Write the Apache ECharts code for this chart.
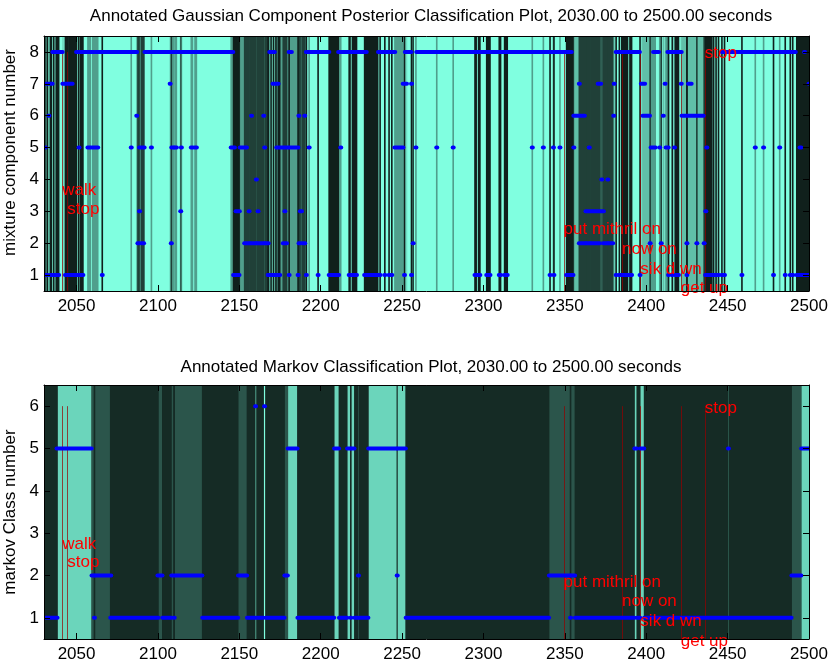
<!DOCTYPE html>
<html><head><meta charset="utf-8">
<script src="https://cdn.jsdelivr.net/npm/echarts@6/dist/echarts.min.js"></script>
<style>html,body{margin:0;padding:0;background:#fff;}#c{width:831px;height:664px;}</style>
</head><body><div id="c"></div>
<script>
// ---------- tick labels ----------
const xTicks = [2050, 2100, 2150, 2200, 2250, 2300, 2350, 2400, 2450, 2500];
const gmmYTicks = [1, 2, 3, 4, 5, 6, 7, 8];
const markovYTicks = [1, 2, 3, 4, 5, 6];
const xRange = [2030, 2500];
const gmmYRange = [0.5, 8.5];
const markovYRange = [0.5, 6.5];

// ---------- titles / axis names ----------
const gmmTitle = 'Annotated Gaussian Component Posterior Classification Plot, 2030.00 to 2500.00 seconds';
const markovTitle = 'Annotated Markov Classification Plot, 2030.00 to 2500.00 seconds';
const gmmYName = 'mixture component number';
const markovYName = 'markov Class number';

// ---------- Gaussian component runs [start s, end s] per component ----------
const gmmClass8 = [[2035.4,2041.2],[2050,2060.5],[2062,2087],[2092,2146],[2168.7,2171.5],[2180.6,2182],[2191.2,2205],[2211,2228],[2235.5,2245.5],[2252,2255.5],[2259,2354],[2381.5,2395.8],[2404.5,2407.5],[2413.3,2421.5],[2446.5,2491.6],[2497.3,2497.3]];
const gmmClass7 = [[2031.5,2035],[2041.6,2047.3],[2107.5,2107.5],[2170.7,2173.8],[2250.7,2252.7],[2255.8,2255.8],[2358.9,2358.9],[2370.5,2372],[2380.3,2380.3],[2397,2399],[2411.6,2411.6],[2421.5,2421.5],[2426,2427.6],[2500,2500]];
const gmmClass6 = [[2033,2033],[2087,2087],[2157.5,2157.5],[2165,2165],[2186.6,2186.6],[2190.2,2190.2],[2355.5,2362],[2380,2380],[2398,2402],[2410.5,2410.5],[2422,2435]];
const gmmClass5 = [[2030,2030.8],[2051.5,2051.5],[2057,2058.5],[2060,2063],[2083.6,2083.6],[2088.7,2089.5],[2091,2091.5],[2096,2096],[2108.5,2109.5],[2110.5,2111.3],[2114.4,2114.4],[2120.5,2121.2],[2122.8,2123.6],[2145,2147],[2150.5,2154.4],[2165.6,2165.6],[2173,2178],[2179.5,2186],[2192.9,2192.9],[2212.3,2212.3],[2245.6,2250.5],[2258.5,2258.5],[2271.3,2271.3],[2281.4,2281.4],[2330,2330],[2336.8,2336.8],[2343,2343],[2347,2347],[2355.5,2355.5],[2365,2365],[2403,2405.5],[2408.3,2408.3],[2412.2,2413.5],[2417.4,2417.4],[2437.2,2437.2],[2467,2467],[2472.1,2472.1],[2482,2482],[2494.5,2495]];
const gmmClass4 = [[2160.5,2160.5],[2372.7,2372.7],[2376.4,2376.4]];
const gmmClass3 = [[2088.7,2088.7],[2114,2114],[2148,2150],[2156,2156],[2161.5,2161.5],[2178,2178],[2187.5,2188.2],[2363,2373.7],[2436.6,2436.6]];
const gmmClass2 = [[2087.7,2088.2],[2090,2091.2],[2108.2,2108.2],[2153.3,2156],[2157,2160],[2161,2165],[2166,2167.7],[2177,2179],[2186.7,2187.2],[2189,2190.2],[2256.8,2256.8],[2358.9,2362.5],[2363.5,2365],[2366,2371.2],[2373.7,2376],[2377,2379.4],[2402.4,2402.4],[2409.2,2409.2],[2425,2425],[2431.1,2431.1],[2435.6,2435.6]];
const gmmClass1 = [[2030,2030.5],[2032,2032],[2034,2034.5],[2036,2036],[2037.5,2039],[2043.2,2044.5],[2045.3,2049.8],[2051.2,2051.2],[2052.5,2053.9],[2065.8,2065.8],[2146.5,2149.8],[2167.7,2168],[2169.5,2169.5],[2171,2171],[2172.5,2172.5],[2174,2174.8],[2180.6,2180.6],[2186.1,2186.1],[2191.2,2191.2],[2198.4,2198.4],[2205.2,2211],[2217.5,2218],[2219.5,2222],[2227,2235],[2236.5,2236.5],[2239.4,2239.4],[2242,2242],[2243.7,2243.7],[2251.5,2251.5],[2255.8,2255.8],[2294.8,2295.5],[2297,2297.8],[2302,2304],[2309.7,2310.5],[2313,2314.6],[2340.9,2340.9],[2343.3,2343.3],[2351.1,2355],[2381.5,2381.5],[2383.5,2383.5],[2385,2388.5],[2390,2391],[2396.2,2396.2],[2413.7,2413.7],[2416,2416],[2418,2419.8],[2425,2425],[2436.5,2440.3],[2441.4,2441.4],[2442.9,2442.9],[2444.4,2444.4],[2446.5,2446.5],[2448.1,2448.1],[2458.8,2458.8],[2478.2,2478.2],[2485.4,2485.4],[2488.5,2488.5],[2490,2490],[2492.5,2500]];

// ---------- Markov class runs [start s, end s] per class ----------
const markovClass6 = [[2160,2160],[2165.5,2165.5]];
const markovClass5 = [[2038,2059],[2180,2185.5],[2208.5,2211],[2216.5,2218],[2219,2220.5],[2229.5,2246.5],[2247.5,2252],[2393,2394],[2396.5,2398.5],[2450.5,2450.5],[2495.5,2500]];
const markovClass2 = [[2059.5,2060.5],[2061.5,2071],[2100,2102.5],[2108.5,2109],[2110.5,2127],[2149.5,2154.5],[2178,2179.5],[2223.2,2223.2],[2247,2247],[2340.5,2353],[2354,2356],[2489.5,2495]];
const markovClass1 = [[2030,2038],[2061,2061],[2071,2100],[2103,2108],[2110,2110],[2127.5,2149],[2155,2159.5],[2161,2164.5],[2166.5,2177.5],[2186,2208],[2211.5,2216],[2218.5,2218.5],[2221,2222.5],[2224,2229],[2252.5,2340],[2353.5,2353.5],[2356.5,2392.5],[2394.5,2396],[2399,2450],[2451,2489]];

// ---------- annotations ----------
const annotTimes = [2041.2, 2044.3, 2349.2, 2385.1, 2396.4, 2421.2, 2436.0];
const annotLabels = ['walk', 'stop', 'put mithril on', 'now on', 'sik d wn', 'get up', 'stop'];
const gmmAnnotY = [3.65, 3.05, 2.42, 1.82, 1.19, 0.58, 7.96];
const markovAnnotY = [2.73, 2.30, 1.83, 1.38, 0.91, 0.45, 5.95];
const gmmLineTop = 8;
const markovLineTop = 6;

// ---------- helpers ----------
const FONT = "'Liberation Sans', Arial, Helvetica, sans-serif";
function shade(c, maxC) {
  const f = c / maxC;
  return 'rgb(' + Math.round(128 * f) + ',' + Math.round(255 * f) + ',' + Math.round(224 * f) + ')';
}
function runsToData(classArrays) {
  const out = [];
  classArrays.forEach(function (pair) {
    pair[1].forEach(function (r) { out.push([r[0], r[1], pair[0]]); });
  });
  return out;
}
const gmmData = runsToData([[8, gmmClass8], [7, gmmClass7], [6, gmmClass6], [5, gmmClass5], [4, gmmClass4], [3, gmmClass3], [2, gmmClass2], [1, gmmClass1]]);
const markovData = runsToData([[6, markovClass6], [5, markovClass5], [2, markovClass2], [1, markovClass1]]);

function bandRenderer(yRange, maxC) {
  return function (params, api) {
    const s = api.value(0), e = api.value(1), c = api.value(2);
    const p0 = api.coord([s - 0.5, yRange[1]]);
    const p1 = api.coord([e + 0.5, yRange[0]]);
    return { type: 'rect', shape: { x: p0[0], y: p0[1], width: p1[0] - p0[0], height: p1[1] - p0[1] },
      style: { fill: shade(c, maxC) } };
  };
}
function dotRenderer(params, api) {
  const s = api.value(0), e = api.value(1), c = api.value(2);
  const p0 = api.coord([s, c]);
  const p1 = api.coord([e, c]);
  return { type: 'rect', shape: { x: p0[0] - 2.5, y: p0[1] - 2, width: p1[0] - p0[0] + 5, height: 4, r: 2 },
    style: { fill: '#0000ff' } };
}
function lineRenderer(yRange) {
  return function (params, api) {
    const t = api.value(0), top = api.value(1);
    const a = api.coord([t, top]);
    const b = api.coord([t, yRange[0]]);
    return { type: 'line', shape: { x1: Math.round(a[0]) + 0.5, y1: a[1], x2: Math.round(b[0]) + 0.5, y2: b[1] },
      style: { stroke: 'rgba(150,0,0,0.7)', lineWidth: 1 } };
  };
}
function textRenderer(params, api) {
  const t = api.value(0), y = api.value(1), idx = api.value(2);
  const p = api.coord([t, y]);
  return { type: 'text', x: p[0], y: p[1],
    style: { text: annotLabels[idx], fill: '#ff0000', font: '17px ' + FONT, align: 'left', verticalAlign: 'middle' } };
}

const lineData = function (top) { return annotTimes.map(function (t) { return [t, top]; }); };
const textData = function (ys) { return annotTimes.map(function (t, i) { return [t, ys[i], i]; }); };
const plainNum = function (v) { return String(v); };

function xAxisPair(gridIndex) {
  const base = {
    type: 'value', gridIndex: gridIndex, min: xRange[0], max: xRange[1], z: 10,
    splitLine: { show: false },
    axisLine: { onZero: false, lineStyle: { color: '#000', width: 1 } },
    axisTick: { inside: true, length: 6, lineStyle: { color: '#000' }, customValues: xTicks },
  };
  return [
    Object.assign({}, base, { position: 'bottom',
      axisLabel: { customValues: xTicks, formatter: plainNum, color: '#000', fontSize: 17, fontFamily: FONT, margin: 7 } }),
    Object.assign({}, base, { position: 'top', axisLabel: { show: false } })
  ];
}
function yAxisPair(gridIndex, range, ticks, name, namePad) {
  const base = {
    type: 'value', gridIndex: gridIndex, min: range[0], max: range[1], z: 10,
    splitLine: { show: false },
    axisLine: { show: true, onZero: false, lineStyle: { color: '#000', width: 1 } },
    axisTick: { show: true, inside: true, length: 6, lineStyle: { color: '#000' }, customValues: ticks },
  };
  return [
    Object.assign({}, base, { position: 'left', name: name, nameLocation: 'middle', nameGap: 21,
      nameTextStyle: { color: '#000', fontSize: 17, fontFamily: FONT, padding: namePad },
      axisLabel: { customValues: ticks, formatter: plainNum, color: '#000', fontSize: 17, fontFamily: FONT, margin: 5 } }),
    Object.assign({}, base, { position: 'right', axisLabel: { show: false } })
  ];
}

const option = {
  animation: false,
  backgroundColor: '#ffffff',
  title: [
    { text: gmmTitle, left: 431, textAlign: 'center', top: 8, padding: 0,
      textStyle: { fontSize: 17, fontWeight: 'normal', color: '#000', fontFamily: FONT } },
    { text: markovTitle, left: 431, textAlign: 'center', top: 359, padding: 0,
      textStyle: { fontSize: 17, fontWeight: 'normal', color: '#000', fontFamily: FONT } }
  ],
  grid: [
    { left: 44, right: 22, top: 36, height: 255, show: true, backgroundColor: shade(8, 8), borderWidth: 0, outerBoundsMode: 'none', containLabel: false },
    { left: 44, right: 22, top: 385, height: 254, show: true, backgroundColor: shade(1, 6), borderWidth: 0, outerBoundsMode: 'none', containLabel: false }
  ],
  xAxis: xAxisPair(0).concat(xAxisPair(1)),
  yAxis: yAxisPair(0, gmmYRange, gmmYTicks, gmmYName, [0, 0, 0, 22]).concat(yAxisPair(1, markovYRange, markovYTicks, markovYName, [0, 0, 0, 0])),
  series: [
    { type: 'custom', xAxisIndex: 0, yAxisIndex: 0, clip: true, data: gmmData, encode: { x: [0, 1], y: 2 },
      renderItem: bandRenderer(gmmYRange, 8), z: 1 },
    { type: 'custom', xAxisIndex: 0, yAxisIndex: 0, clip: true, data: lineData(gmmLineTop), encode: { x: 0, y: 1 },
      renderItem: lineRenderer(gmmYRange), z: 2 },
    { type: 'custom', xAxisIndex: 0, yAxisIndex: 0, clip: true, data: gmmData, encode: { x: [0, 1], y: 2 },
      renderItem: dotRenderer, z: 3 },
    { type: 'custom', xAxisIndex: 0, yAxisIndex: 0, clip: false, data: textData(gmmAnnotY), encode: { x: 0, y: 1 },
      renderItem: textRenderer, z: 4 },

    { type: 'custom', xAxisIndex: 2, yAxisIndex: 2, clip: true, data: markovData, encode: { x: [0, 1], y: 2 },
      renderItem: bandRenderer(markovYRange, 6), z: 1 },
    { type: 'custom', xAxisIndex: 2, yAxisIndex: 2, clip: true, data: lineData(markovLineTop), encode: { x: 0, y: 1 },
      renderItem: lineRenderer(markovYRange), z: 2 },
    { type: 'custom', xAxisIndex: 2, yAxisIndex: 2, clip: true, data: markovData, encode: { x: [0, 1], y: 2 },
      renderItem: dotRenderer, z: 3 },
    { type: 'custom', xAxisIndex: 2, yAxisIndex: 2, clip: false, data: textData(markovAnnotY), encode: { x: 0, y: 1 },
      renderItem: textRenderer, z: 4 }
  ]
};
const chart = echarts.init(document.getElementById('c'), null, { renderer: 'canvas' });
chart.setOption(option);
</script>
</body></html>
